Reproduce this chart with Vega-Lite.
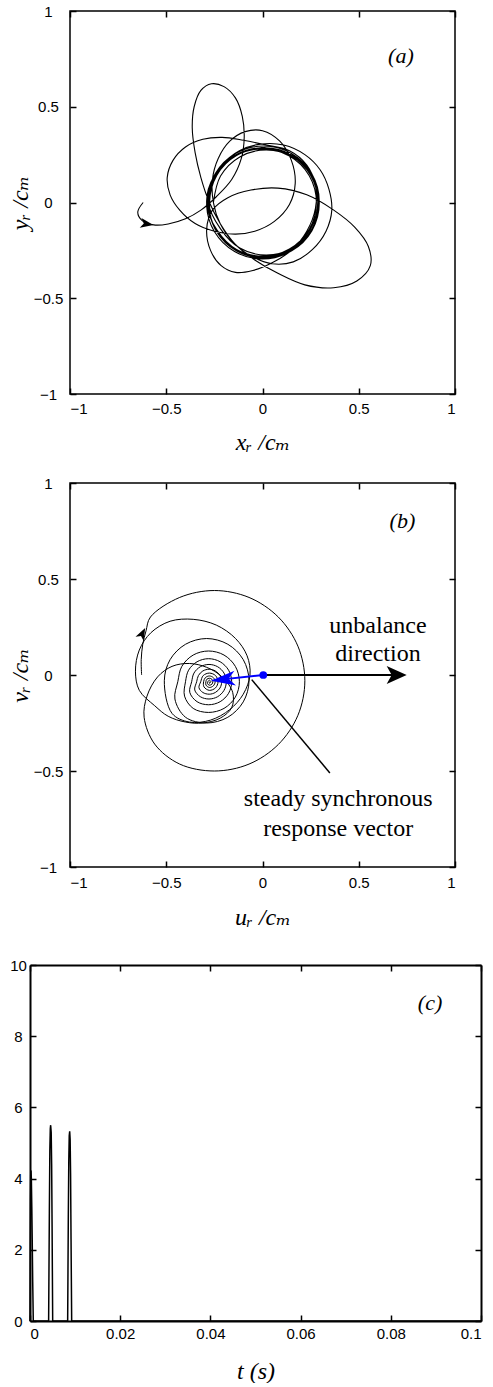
{
  "$schema": "https://vega.github.io/schema/vega-lite/v6.json",
  "background": "white",
  "padding": {"top": 3, "left": 7, "right": 0, "bottom": 0},
  "config": {
    "view": {"stroke": null},
    "axis": {"grid": false, "labelFont": "Liberation Sans", "labelFontSize": 15, "labelColor": "black", "tickColor": "black", "tickWidth": 1.5, "tickOpacity": 1, "domainColor": "black", "titleFont": "Liberation Serif, DejaVu Serif", "titleFontSize": 24, "titleFontStyle": "italic", "titleFontWeight": "normal", "titleColor": "black"}
  },
  "datasets": {
    "trajA": [
      {"i":1,"x":-0.620,"y":0.000},{"i":2,"x":-0.648,"y":-0.050},{"i":3,"x":-0.625,"y":-0.095},{"i":4,"x":-0.565,"y":-0.117},{"i":5,"x":-0.490,"y":-0.112},{"i":6,"x":-0.400,"y":-0.085},{"i":7,"x":-0.320,"y":-0.040},{"i":8,"x":-0.240,"y":0.030},{"i":9,"x":-0.160,"y":0.120},{"i":10,"x":-0.110,"y":0.230},
      {"i":11,"x":-0.095,"y":0.340},{"i":12,"x":-0.105,"y":0.450},{"i":13,"x":-0.140,"y":0.545},{"i":14,"x":-0.200,"y":0.605},{"i":15,"x":-0.265,"y":0.620},{"i":16,"x":-0.320,"y":0.585},{"i":17,"x":-0.355,"y":0.500},{"i":18,"x":-0.365,"y":0.390},{"i":19,"x":-0.350,"y":0.260},{"i":20,"x":-0.320,"y":0.130},
      {"i":21,"x":-0.280,"y":0.010},{"i":22,"x":-0.220,"y":-0.110},{"i":23,"x":-0.140,"y":-0.220},{"i":24,"x":-0.040,"y":-0.300},{"i":25,"x":0.080,"y":-0.370},{"i":26,"x":0.220,"y":-0.430},{"i":27,"x":0.370,"y":-0.445},{"i":28,"x":0.490,"y":-0.410},{"i":29,"x":0.560,"y":-0.330},{"i":30,"x":0.550,"y":-0.230},
      {"i":31,"x":0.480,"y":-0.130},{"i":32,"x":0.370,"y":-0.040},{"i":33,"x":0.230,"y":0.040},{"i":34,"x":0.080,"y":0.075},{"i":35,"x":-0.060,"y":0.065},{"i":36,"x":-0.180,"y":0.025},{"i":37,"x":-0.260,"y":-0.040},{"i":38,"x":-0.290,"y":-0.140},{"i":39,"x":-0.270,"y":-0.250},{"i":40,"x":-0.215,"y":-0.330},
      {"i":41,"x":-0.140,"y":-0.365},{"i":42,"x":-0.050,"y":-0.355},{"i":43,"x":0.050,"y":-0.315},{"i":44,"x":0.150,"y":-0.250},{"i":45,"x":0.230,"y":-0.150},{"i":46,"x":0.275,"y":-0.030},{"i":47,"x":0.275,"y":0.090},{"i":48,"x":0.230,"y":0.195},{"i":49,"x":0.140,"y":0.270},{"i":50,"x":0.020,"y":0.300},
      {"i":51,"x":-0.100,"y":0.325},{"i":52,"x":-0.210,"y":0.340},{"i":53,"x":-0.310,"y":0.330},{"i":54,"x":-0.400,"y":0.290},{"i":55,"x":-0.465,"y":0.220},{"i":56,"x":-0.495,"y":0.130},{"i":57,"x":-0.480,"y":0.040},{"i":58,"x":-0.430,"y":-0.040},{"i":59,"x":-0.350,"y":-0.110},{"i":60,"x":-0.250,"y":-0.150},
      {"i":61,"x":-0.140,"y":-0.165},{"i":62,"x":-0.040,"y":-0.150},{"i":63,"x":0.060,"y":-0.100},{"i":64,"x":0.140,"y":-0.010},{"i":65,"x":0.170,"y":0.100},{"i":66,"x":0.150,"y":0.220},{"i":67,"x":0.090,"y":0.320},{"i":68,"x":0.000,"y":0.375},{"i":69,"x":-0.090,"y":0.370},{"i":70,"x":-0.170,"y":0.320},
      {"i":71,"x":-0.230,"y":0.230},{"i":72,"x":-0.260,"y":0.120},{"i":73,"x":-0.255,"y":0.000},{"i":74,"x":-0.220,"y":-0.110},{"i":75,"x":-0.150,"y":-0.210},{"i":76,"x":-0.060,"y":-0.280},{"i":77,"x":0.050,"y":-0.320},{"i":78,"x":0.160,"y":-0.310},{"i":79,"x":0.260,"y":-0.245},{"i":80,"x":0.330,"y":-0.150},
      {"i":81,"x":0.360,"y":-0.040},{"i":82,"x":0.345,"y":0.070},{"i":83,"x":0.300,"y":0.170},{"i":84,"x":0.220,"y":0.250},{"i":85,"x":0.110,"y":0.300},{"i":86,"x":-0.010,"y":0.305},{"i":87,"x":-0.120,"y":0.270},{"i":88,"x":-0.210,"y":0.195},{"i":89,"x":-0.270,"y":0.090},{"i":90,"x":-0.290,"y":-0.020},
      {"i":91,"x":-0.251,"y":-0.150},{"i":92,"x":-0.145,"y":-0.256},{"i":93,"x":0.000,"y":-0.295},{"i":94,"x":0.145,"y":-0.256},{"i":95,"x":0.251,"y":-0.150},{"i":96,"x":0.290,"y":-0.005},{"i":97,"x":0.251,"y":0.140},{"i":98,"x":0.145,"y":0.246},{"i":99,"x":0.000,"y":0.285},{"i":100,"x":-0.145,"y":0.246},
      {"i":101,"x":-0.251,"y":0.140},{"i":102,"x":-0.290,"y":-0.005},{"i":103,"x":-0.237,"y":-0.143},{"i":104,"x":-0.133,"y":-0.247},{"i":105,"x":0.010,"y":-0.285},{"i":106,"x":0.153,"y":-0.247},{"i":107,"x":0.257,"y":-0.143},{"i":108,"x":0.295,"y":0.000},{"i":109,"x":0.257,"y":0.143},{"i":110,"x":0.153,"y":0.247},
      {"i":111,"x":0.010,"y":0.285},{"i":112,"x":-0.133,"y":0.247},{"i":113,"x":-0.237,"y":0.143},{"i":114,"x":-0.275,"y":0.000},{"i":115,"x":-0.246,"y":-0.140},{"i":116,"x":-0.140,"y":-0.246},{"i":117,"x":0.005,"y":-0.285},{"i":118,"x":0.150,"y":-0.246},{"i":119,"x":0.256,"y":-0.140},{"i":120,"x":0.295,"y":0.005},
      {"i":121,"x":0.256,"y":0.150},{"i":122,"x":0.150,"y":0.256},{"i":123,"x":0.005,"y":0.295},{"i":124,"x":-0.140,"y":0.256},{"i":125,"x":-0.246,"y":0.150},{"i":126,"x":-0.285,"y":0.005},{"i":127,"x":-0.243,"y":-0.140},{"i":128,"x":-0.140,"y":-0.243},{"i":129,"x":0.000,"y":-0.280},{"i":130,"x":0.140,"y":-0.243},
      {"i":131,"x":0.243,"y":-0.140},{"i":132,"x":0.280,"y":0.000},{"i":133,"x":0.243,"y":0.140},{"i":134,"x":0.140,"y":0.243},{"i":135,"x":0.000,"y":0.280},{"i":136,"x":-0.140,"y":0.243},{"i":137,"x":-0.243,"y":0.140},{"i":138,"x":-0.280,"y":0.000},{"i":139,"x":-0.241,"y":-0.147},{"i":140,"x":-0.136,"y":-0.252},
      {"i":141,"x":0.008,"y":-0.290},{"i":142,"x":0.152,"y":-0.252},{"i":143,"x":0.257,"y":-0.147},{"i":144,"x":0.295,"y":-0.003},{"i":145,"x":0.257,"y":0.141},{"i":146,"x":0.152,"y":0.246},{"i":147,"x":0.008,"y":0.284},{"i":148,"x":-0.136,"y":0.246},{"i":149,"x":-0.241,"y":0.141},{"i":150,"x":-0.279,"y":-0.003},
      {"i":151,"x":-0.243,"y":-0.140},{"i":152,"x":-0.139,"y":-0.244},{"i":153,"x":0.003,"y":-0.282},{"i":154,"x":0.145,"y":-0.244},{"i":155,"x":0.249,"y":-0.140},{"i":156,"x":0.287,"y":0.002},{"i":157,"x":0.249,"y":0.144},{"i":158,"x":0.145,"y":0.248},{"i":159,"x":0.003,"y":0.286},{"i":160,"x":-0.139,"y":0.248},
      {"i":161,"x":-0.243,"y":0.144},{"i":162,"x":-0.281,"y":0.002},{"i":163,"x":-0.218,"y":-0.138},{"i":164,"x":-0.118,"y":-0.238},{"i":165,"x":0.020,"y":-0.275},{"i":166,"x":0.158,"y":-0.238},{"i":167,"x":0.258,"y":-0.138},{"i":168,"x":0.295,"y":0.000},{"i":169,"x":0.258,"y":0.138},{"i":170,"x":0.158,"y":0.238},
      {"i":171,"x":0.020,"y":0.275},{"i":172,"x":-0.118,"y":0.238},{"i":173,"x":-0.218,"y":0.138},{"i":174,"x":-0.255,"y":0.000}
    ],
    "trajB": [
      {"i":1,"x":-0.628,"y":0.000},{"i":2,"x":-0.630,"y":0.080},{"i":3,"x":-0.622,"y":0.160},{"i":4,"x":-0.605,"y":0.230},{"i":5,"x":-0.582,"y":0.302},{"i":6,"x":-0.430,"y":0.404},{"i":7,"x":-0.250,"y":0.440},{"i":8,"x":-0.070,"y":0.404},{"i":9,"x":0.082,"y":0.302},{"i":10,"x":0.184,"y":0.150},
      {"i":11,"x":0.220,"y":-0.030},{"i":12,"x":0.184,"y":-0.210},{"i":13,"x":0.082,"y":-0.362},{"i":14,"x":-0.070,"y":-0.464},{"i":15,"x":-0.250,"y":-0.500},{"i":16,"x":-0.430,"y":-0.464},{"i":17,"x":-0.560,"y":-0.360},{"i":18,"x":-0.615,"y":-0.220},{"i":19,"x":-0.600,"y":-0.110},{"i":20,"x":-0.545,"y":-0.010},
      {"i":21,"x":-0.470,"y":0.045},{"i":22,"x":-0.380,"y":0.060},{"i":23,"x":-0.290,"y":0.040},{"i":24,"x":-0.210,"y":-0.010},{"i":25,"x":-0.155,"y":-0.090},{"i":26,"x":-0.160,"y":-0.170},{"i":27,"x":-0.220,"y":-0.225},{"i":28,"x":-0.310,"y":-0.250},{"i":29,"x":-0.400,"y":-0.245},{"i":30,"x":-0.490,"y":-0.215},
      {"i":31,"x":-0.560,"y":-0.160},{"i":32,"x":-0.640,"y":-0.080},{"i":33,"x":-0.660,"y":0.020},{"i":34,"x":-0.640,"y":0.130},{"i":35,"x":-0.580,"y":0.220},{"i":36,"x":-0.480,"y":0.280},{"i":37,"x":-0.360,"y":0.290},{"i":38,"x":-0.240,"y":0.260},{"i":39,"x":-0.140,"y":0.190},{"i":40,"x":-0.080,"y":0.100},
      {"i":41,"x":-0.065,"y":0.000},{"i":42,"x":-0.100,"y":-0.100},{"i":43,"x":-0.170,"y":-0.180},{"i":44,"x":-0.270,"y":-0.235},{"i":45,"x":-0.380,"y":-0.245},{"i":46,"x":-0.470,"y":-0.200},{"i":47,"x":-0.510,"y":-0.030},{"i":48,"x":-0.480,"y":0.080},{"i":49,"x":-0.400,"y":0.160},{"i":50,"x":-0.290,"y":0.190},
      {"i":51,"x":-0.180,"y":0.160},{"i":52,"x":-0.100,"y":0.080},{"i":53,"x":-0.070,"y":-0.030},{"i":54,"x":-0.100,"y":-0.140},{"i":55,"x":-0.180,"y":-0.220},{"i":56,"x":-0.290,"y":-0.250},{"i":57,"x":-0.400,"y":-0.220},{"i":58,"x":-0.455,"y":-0.125},{"i":59,"x":-0.440,"y":-0.035},{"i":60,"x":-0.419,"y":0.045},
      {"i":61,"x":-0.360,"y":0.104},{"i":62,"x":-0.280,"y":0.125},{"i":63,"x":-0.200,"y":0.104},{"i":64,"x":-0.141,"y":0.045},{"i":65,"x":-0.120,"y":-0.035},{"i":66,"x":-0.141,"y":-0.115},{"i":67,"x":-0.200,"y":-0.174},{"i":68,"x":-0.280,"y":-0.195},{"i":69,"x":-0.360,"y":-0.174},{"i":70,"x":-0.405,"y":-0.110},
      {"i":71,"x":-0.400,"y":-0.035},{"i":72,"x":-0.384,"y":0.025},{"i":73,"x":-0.340,"y":0.069},{"i":74,"x":-0.280,"y":0.085},{"i":75,"x":-0.220,"y":0.069},{"i":76,"x":-0.176,"y":0.025},{"i":77,"x":-0.160,"y":-0.035},{"i":78,"x":-0.176,"y":-0.095},{"i":79,"x":-0.220,"y":-0.139},{"i":80,"x":-0.280,"y":-0.155},
      {"i":81,"x":-0.340,"y":-0.139},{"i":82,"x":-0.378,"y":-0.090},{"i":83,"x":-0.368,"y":-0.035},{"i":84,"x":-0.356,"y":0.010},{"i":85,"x":-0.323,"y":0.043},{"i":86,"x":-0.278,"y":0.055},{"i":87,"x":-0.233,"y":0.043},{"i":88,"x":-0.200,"y":0.010},{"i":89,"x":-0.188,"y":-0.035},{"i":90,"x":-0.200,"y":-0.080},
      {"i":91,"x":-0.233,"y":-0.113},{"i":92,"x":-0.278,"y":-0.125},{"i":93,"x":-0.323,"y":-0.113},{"i":94,"x":-0.352,"y":-0.078},{"i":95,"x":-0.342,"y":-0.035},{"i":96,"x":-0.333,"y":-0.003},{"i":97,"x":-0.310,"y":0.021},{"i":98,"x":-0.277,"y":0.030},{"i":99,"x":-0.245,"y":0.021},{"i":100,"x":-0.221,"y":-0.003},
      {"i":101,"x":-0.212,"y":-0.035},{"i":102,"x":-0.221,"y":-0.068},{"i":103,"x":-0.245,"y":-0.091},{"i":104,"x":-0.277,"y":-0.100},{"i":105,"x":-0.310,"y":-0.091},{"i":106,"x":-0.330,"y":-0.066},{"i":107,"x":-0.321,"y":-0.035},{"i":108,"x":-0.308,"y":-0.003},{"i":109,"x":-0.276,"y":0.010},{"i":110,"x":-0.244,"y":-0.003},
      {"i":111,"x":-0.231,"y":-0.035},{"i":112,"x":-0.244,"y":-0.067},{"i":113,"x":-0.276,"y":-0.080},{"i":114,"x":-0.304,"y":-0.062},{"i":115,"x":-0.306,"y":-0.035},{"i":116,"x":-0.297,"y":-0.014},{"i":117,"x":-0.276,"y":-0.005},{"i":118,"x":-0.255,"y":-0.014},{"i":119,"x":-0.246,"y":-0.035},{"i":120,"x":-0.255,"y":-0.056},
      {"i":121,"x":-0.276,"y":-0.065},{"i":122,"x":-0.294,"y":-0.052},{"i":123,"x":-0.294,"y":-0.035},{"i":124,"x":-0.289,"y":-0.022},{"i":125,"x":-0.276,"y":-0.017},{"i":126,"x":-0.263,"y":-0.022},{"i":127,"x":-0.258,"y":-0.035},{"i":128,"x":-0.263,"y":-0.048},{"i":129,"x":-0.276,"y":-0.053},{"i":130,"x":-0.286,"y":-0.045},
      {"i":131,"x":-0.284,"y":-0.035},{"i":132,"x":-0.276,"y":-0.027},{"i":133,"x":-0.268,"y":-0.035},{"i":134,"x":-0.276,"y":-0.043},{"i":135,"x":-0.276,"y":-0.035}
    ],
    "tc": [
      {"t":0,"v":0},{"t":0.00005,"v":2.0},{"t":0.0001,"v":3.4},{"t":0.00016,"v":4.1},{"t":0.00022,"v":4.23},{"t":0.0003,"v":4.0},{"t":0.0004,"v":3.2},{"t":0.0005,"v":2.2},{"t":0.0006,"v":1.1},{"t":0.00073,"v":0},
      {"t":0.00413,"v":0},{"t":0.0043,"v":3.2},{"t":0.0044,"v":4.8},{"t":0.0045,"v":5.4},{"t":0.00458,"v":5.5},{"t":0.0047,"v":5.3},{"t":0.0048,"v":4.4},{"t":0.0049,"v":2.6},{"t":0.00503,"v":0},
      {"t":0.00835,"v":0},{"t":0.0085,"v":3.0},{"t":0.0086,"v":4.5},{"t":0.0087,"v":5.2},{"t":0.0088,"v":5.33},{"t":0.0089,"v":5.1},{"t":0.009,"v":4.1},{"t":0.0091,"v":2.3},{"t":0.00924,"v":0},
      {"t":0.1,"v":0}
    ]
  },
  "spacing": 28,
  "vconcat": [
    {
      "spacing": 20,
      "vconcat": [
        {
          "width": 385, "height": 383,
          "view": {"stroke": "black", "strokeWidth": 1.5},
          "resolve": {"axis": {"x": "independent", "y": "independent"}},
          "layer": [
            {
              "data": {"name": "trajA"},
              "mark": {"type": "line", "color": "black", "strokeWidth": 1.1, "interpolate": "catmull-rom"},
              "encoding": {
                "x": {"field": "x", "type": "quantitative", "scale": {"domain": [-1, 1], "nice": false, "zero": false},
                      "axis": {"orient": "bottom", "values": [-1, -0.5, 0, 0.5, 1], "format": "~g", "ticks": false, "domain": false, "labelPadding": 7, "title": "xᵣ /cₘ", "titlePadding": 14}},
                "y": {"field": "y", "type": "quantitative", "scale": {"domain": [-1, 1], "nice": false, "zero": false},
                      "axis": {"orient": "left", "values": [-1, -0.5, 0, 0.5, 1], "format": "~g", "ticks": false, "domain": false, "labelPadding": 22, "labelAlign": "center", "title": "yᵣ /cₘ", "titlePadding": 1}},
                "order": {"field": "i", "type": "quantitative"}
              }
            },
            {
              "data": {"values": [{"x": -0.60, "y": -0.112}]},
              "mark": {"type": "point", "filled": true, "color": "black", "opacity": 1, "shape": "M1,0L-1,-0.75L-0.5,0L-1,0.75Z", "size": 170, "angle": 10},
              "encoding": {
                "x": {"field": "x", "type": "quantitative", "scale": {"domain": [-1, 1], "nice": false, "zero": false},
                      "axis": {"orient": "top", "offset": -6, "ticks": true, "tickSize": 6, "values": [-1, -0.5, 0, 0.5, 1], "labels": false, "domain": false, "title": null}},
                "y": {"field": "y", "type": "quantitative", "scale": {"domain": [-1, 1], "nice": false, "zero": false},
                      "axis": {"orient": "right", "offset": -6, "ticks": true, "tickSize": 6, "values": [-1, -0.5, 0, 0.5, 1], "labels": false, "domain": false, "title": null}}
              }
            },
            {
              "data": {"values": [{"x": 0.719, "y": 0.765, "label": "(a)"}]},
              "mark": {"type": "text", "font": "Liberation Serif", "fontSize": 22, "fontStyle": "italic", "color": "black", "align": "center", "baseline": "middle"},
              "encoding": {
                "x": {"field": "x", "type": "quantitative", "scale": {"domain": [-1, 1], "nice": false, "zero": false},
                      "axis": {"orient": "bottom", "offset": -6, "ticks": true, "tickSize": 6, "values": [-1, -0.5, 0, 0.5, 1], "labels": false, "domain": false, "title": null}},
                "y": {"field": "y", "type": "quantitative", "scale": {"domain": [-1, 1], "nice": false, "zero": false},
                      "axis": {"orient": "left", "offset": -6, "ticks": true, "tickSize": 6, "values": [-1, -0.5, 0, 0.5, 1], "labels": false, "domain": false, "title": null}},
                "text": {"field": "label"}
              }
            }
          ]
        },
        {
          "width": 385, "height": 384,
          "view": {"stroke": "black", "strokeWidth": 1.5},
          "resolve": {"axis": {"x": "independent", "y": "independent"}},
          "layer": [
            {
              "data": {"name": "trajB"},
              "mark": {"type": "line", "color": "black", "strokeWidth": 1, "interpolate": "catmull-rom"},
              "encoding": {
                "x": {"field": "x", "type": "quantitative", "scale": {"domain": [-1, 1], "nice": false, "zero": false},
                      "axis": {"orient": "bottom", "values": [-1, -0.5, 0, 0.5, 1], "format": "~g", "ticks": false, "domain": false, "labelPadding": 8, "title": "uᵣ /cₘ", "titlePadding": 15}},
                "y": {"field": "y", "type": "quantitative", "scale": {"domain": [-1, 1], "nice": false, "zero": false},
                      "axis": {"orient": "left", "values": [-1, -0.5, 0, 0.5, 1], "format": "~g", "ticks": false, "domain": false, "labelPadding": 22, "labelAlign": "center", "title": "vᵣ /cₘ", "titlePadding": 1}},
                "order": {"field": "i", "type": "quantitative"}
              }
            },
            {
              "data": {"values": [{"x": -0.624, "y": 0.217}]},
              "mark": {"type": "point", "filled": true, "color": "black", "opacity": 1, "shape": "M1,0L-1,-0.75L-0.5,0L-1,0.75Z", "size": 150, "angle": 297},
              "encoding": {
                "x": {"field": "x", "type": "quantitative", "scale": {"domain": [-1, 1], "nice": false, "zero": false},
                      "axis": {"orient": "top", "offset": -6, "ticks": true, "tickSize": 6, "values": [-1, -0.5, 0, 0.5, 1], "labels": false, "domain": false, "title": null}},
                "y": {"field": "y", "type": "quantitative", "scale": {"domain": [-1, 1], "nice": false, "zero": false},
                      "axis": {"orient": "right", "offset": -6, "ticks": true, "tickSize": 6, "values": [-1, -0.5, 0, 0.5, 1], "labels": false, "domain": false, "title": null}}
              }
            },
            {
              "data": {"values": [{"x": 0.004, "y": 0, "x2": 0.70, "y2": 0}]},
              "mark": {"type": "rule", "color": "black", "strokeWidth": 2},
              "encoding": {
                "x": {"field": "x", "type": "quantitative", "scale": {"domain": [-1, 1], "nice": false, "zero": false},
                      "axis": {"orient": "bottom", "offset": -6, "ticks": true, "tickSize": 6, "values": [-1, -0.5, 0, 0.5, 1], "labels": false, "domain": false, "title": null}},
                "y": {"field": "y", "type": "quantitative", "scale": {"domain": [-1, 1], "nice": false, "zero": false},
                      "axis": {"orient": "left", "offset": -6, "ticks": true, "tickSize": 6, "values": [-1, -0.5, 0, 0.5, 1], "labels": false, "domain": false, "title": null}},
                "x2": {"field": "x2"}, "y2": {"field": "y2"}
              }
            },
            {
              "data": {"values": [{"x": -0.056, "y": -0.024, "x2": 0.35, "y2": -0.51}]},
              "mark": {"type": "rule", "color": "black", "strokeWidth": 1.5},
              "encoding": {
                "x": {"field": "x", "type": "quantitative", "scale": {"domain": [-1, 1], "nice": false, "zero": false}, "axis": null},
                "y": {"field": "y", "type": "quantitative", "scale": {"domain": [-1, 1], "nice": false, "zero": false}, "axis": null},
                "x2": {"field": "x2"}, "y2": {"field": "y2"}
              }
            },
            {
              "data": {"values": [{"x": 0.004, "y": 0, "x2": -0.255, "y2": -0.028}]},
              "mark": {"type": "rule", "color": "#0000ff", "strokeWidth": 2},
              "encoding": {
                "x": {"field": "x", "type": "quantitative", "scale": {"domain": [-1, 1], "nice": false, "zero": false}, "axis": null},
                "y": {"field": "y", "type": "quantitative", "scale": {"domain": [-1, 1], "nice": false, "zero": false}, "axis": null},
                "x2": {"field": "x2"}, "y2": {"field": "y2"}
              }
            },
            {
              "data": {"values": [{"x": 0.004, "y": 0}]},
              "mark": {"type": "point", "filled": true, "color": "#0000ff", "opacity": 1, "shape": "circle", "size": 60},
              "encoding": {
                "x": {"field": "x", "type": "quantitative", "scale": {"domain": [-1, 1], "nice": false, "zero": false}, "axis": null},
                "y": {"field": "y", "type": "quantitative", "scale": {"domain": [-1, 1], "nice": false, "zero": false}, "axis": null}
              }
            },
            {
              "data": {"values": [{"x": -0.205, "y": -0.023}]},
              "mark": {"type": "point", "filled": true, "color": "#0000ff", "opacity": 1, "shape": "M1,0L-1,-0.6L-0.45,0L-1,0.6Z", "size": 600, "angle": 174},
              "encoding": {
                "x": {"field": "x", "type": "quantitative", "scale": {"domain": [-1, 1], "nice": false, "zero": false}, "axis": null},
                "y": {"field": "y", "type": "quantitative", "scale": {"domain": [-1, 1], "nice": false, "zero": false}, "axis": null}
              }
            },
            {
              "data": {"values": [{"x": 0.697, "y": 0}]},
              "mark": {"type": "point", "filled": true, "color": "black", "opacity": 1, "shape": "M1,0L-1,-0.9L-0.5,0L-1,0.9Z", "size": 400, "angle": 0},
              "encoding": {
                "x": {"field": "x", "type": "quantitative", "scale": {"domain": [-1, 1], "nice": false, "zero": false}, "axis": null},
                "y": {"field": "y", "type": "quantitative", "scale": {"domain": [-1, 1], "nice": false, "zero": false}, "axis": null}
              }
            },
            {
              "data": {"values": [
                {"x": 0.60, "y": 0.219, "label": "unbalance"},
                {"x": 0.60, "y": 0.073, "label": "direction"},
                {"x": 0.393, "y": -0.684, "label": "steady synchronous"},
                {"x": 0.393, "y": -0.840, "label": "response vector"}
              ]},
              "mark": {"type": "text", "font": "Liberation Serif", "fontSize": 24, "color": "black", "align": "center", "baseline": "alphabetic"},
              "encoding": {
                "x": {"field": "x", "type": "quantitative", "scale": {"domain": [-1, 1], "nice": false, "zero": false}, "axis": null},
                "y": {"field": "y", "type": "quantitative", "scale": {"domain": [-1, 1], "nice": false, "zero": false}, "axis": null},
                "text": {"field": "label"}
              }
            },
            {
              "data": {"values": [{"x": 0.727, "y": 0.802, "label": "(b)"}]},
              "mark": {"type": "text", "font": "Liberation Serif", "fontSize": 22, "fontStyle": "italic", "color": "black", "align": "center", "baseline": "middle"},
              "encoding": {
                "x": {"field": "x", "type": "quantitative", "scale": {"domain": [-1, 1], "nice": false, "zero": false}, "axis": null},
                "y": {"field": "y", "type": "quantitative", "scale": {"domain": [-1, 1], "nice": false, "zero": false}, "axis": null},
                "text": {"field": "label"}
              }
            }
          ]
        }
      ]
    },
    {
      "width": 411, "height": 356,
      "resolve": {"axis": {"x": "independent", "y": "independent"}},
      "layer": [
        {
          "data": {"name": "tc"},
          "mark": {"type": "line", "color": "black", "strokeWidth": 1.5},
          "encoding": {
            "x": {"field": "t", "type": "quantitative", "scale": {"domain": [0, 0.1], "range": [-40, 411], "nice": false, "zero": false},
                  "axis": {"orient": "bottom", "values": [0, 0.02, 0.04, 0.06, 0.08, 0.1], "format": "~g", "ticks": false, "domain": true, "domainWidth": 2, "labelPadding": 5, "title": "t (s)", "titlePadding": 18}},
            "y": {"field": "v", "type": "quantitative", "scale": {"domain": [0, 10], "nice": false, "zero": false},
                  "axis": {"orient": "left", "offset": 40, "values": [0, 2, 4, 6, 8, 10], "format": "d", "ticks": false, "domain": true, "domainWidth": 2, "labelPadding": 12, "labelAlign": "center", "title": null}}
          }
        },
        {
          "data": {"values": [{"t": 0.0887, "v": 8.93, "label": "(c)"}]},
          "mark": {"type": "text", "font": "Liberation Serif", "fontSize": 22, "fontStyle": "italic", "color": "black", "align": "center", "baseline": "middle"},
          "encoding": {
            "x": {"field": "t", "type": "quantitative", "scale": {"domain": [0, 0.1], "range": [-40, 411], "nice": false, "zero": false},
                  "axis": {"orient": "top", "values": [0, 0.1], "labels": false, "ticks": false, "domain": true, "domainWidth": 2, "title": null}},
            "y": {"field": "v", "type": "quantitative", "scale": {"domain": [0, 10], "nice": false, "zero": false},
                  "axis": {"orient": "right", "values": [0, 10], "labels": false, "ticks": false, "domain": true, "domainWidth": 2, "title": null}},
            "text": {"field": "label"}
          }
        },
        {
          "data": {"values": [{"t": 0.0887, "v": 8.93, "label": "(c)"}]},
          "mark": {"type": "text", "opacity": 0, "fontSize": 22},
          "encoding": {
            "x": {"field": "t", "type": "quantitative", "scale": {"domain": [0, 0.1], "range": [-40, 411], "nice": false, "zero": false},
                  "axis": {"orient": "bottom", "offset": -6, "ticks": true, "tickSize": 6, "values": [0, 0.02, 0.04, 0.06, 0.08, 0.1], "labels": false, "domain": false, "title": null}},
            "y": {"field": "v", "type": "quantitative", "scale": {"domain": [0, 10], "nice": false, "zero": false},
                  "axis": {"orient": "left", "offset": 34, "ticks": true, "tickSize": 6, "values": [0, 2, 4, 6, 8, 10], "labels": false, "domain": false, "title": null}},
            "text": {"field": "label"}
          }
        },
        {
          "data": {"values": [{"t": 0.0887, "v": 8.93, "label": "(c)"}]},
          "mark": {"type": "text", "opacity": 0, "fontSize": 22},
          "encoding": {
            "x": {"field": "t", "type": "quantitative", "scale": {"domain": [0, 0.1], "range": [-40, 411], "nice": false, "zero": false},
                  "axis": {"orient": "top", "offset": -6, "ticks": true, "tickSize": 6, "values": [0, 0.02, 0.04, 0.06, 0.08, 0.1], "labels": false, "domain": false, "title": null}},
            "y": {"field": "v", "type": "quantitative", "scale": {"domain": [0, 10], "nice": false, "zero": false},
                  "axis": {"orient": "right", "offset": -6, "ticks": true, "tickSize": 6, "values": [0, 2, 4, 6, 8, 10], "labels": false, "domain": false, "title": null}},
            "text": {"field": "label"}
          }
        }
      ]
    }
  ]
}
